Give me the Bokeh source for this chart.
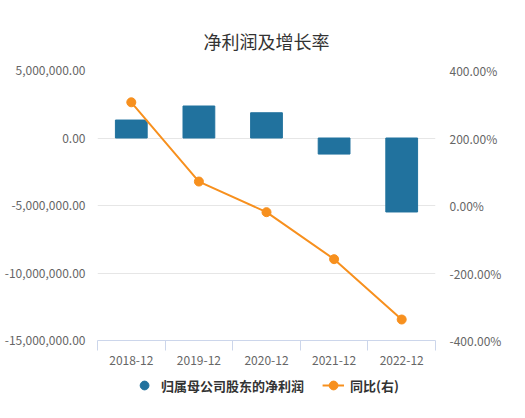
from bokeh.plotting import figure
from bokeh.layouts import column
from bokeh.models import (Range1d, LinearAxis, FixedTicker, NumeralTickFormatter,
                          PrintfTickFormatter, Legend, LegendItem, ColumnDataSource)
from bokeh.embed import file_html
from bokeh.resources import INLINE

# data
periods = ["2018-12", "2019-12", "2020-12", "2021-12", "2022-12"]
net_profit = [1330000, 2370000, 1870000, -1190000, -5480000]
yoy_pct = [305.8, 71.0, -19.8, -159.0, -337.8]

BLUE = "#21729e"
ORANGE = "#f7901e"
FONT = "Noto Sans CJK SC"

xs = [i + 0.5 for i in range(len(periods))]
src = ColumnDataSource(dict(x=xs, profit=net_profit, yoy=yoy_pct))

p = figure(width=509, height=367, output_backend="svg", toolbar_location=None,
           x_range=Range1d(0, len(periods)), y_range=Range1d(-15000000, 5000000),
           title="净利润及增长率", min_border_left=97, min_border_right=74,
           min_border_top=70, min_border_bottom=23)
p.outline_line_color = None

p.title.align = "center"
p.title.text_font = FONT
p.title.text_font_size = "18px"
p.title.text_font_style = "normal"
p.title.text_color = "#333333"
p.title.standoff = 33

p.extra_y_ranges = {"pct": Range1d(-400, 400)}

p.vbar(x="x", top="profit", bottom=0, width=0.47, color=BLUE, source=src)
p.line(x="x", y="yoy", y_range_name="pct", color=ORANGE, line_width=2, source=src)
p.scatter(x="x", y="yoy", y_range_name="pct", color=ORANGE, size=9, source=src)

# left axis
ya = p.yaxis[0]
ya.ticker = FixedTicker(ticks=[-15000000, -10000000, -5000000, 0, 5000000])
ya.formatter = NumeralTickFormatter(format="0,0.00")
ya.axis_line_color = None
ya.major_tick_line_color = None
ya.minor_tick_line_color = None
ya.major_tick_out = 0
ya.major_label_text_font = FONT
ya.major_label_text_font_size = "12px"
ya.major_label_text_color = "#666666"
ya.major_label_standoff = 12

# right axis
ra = LinearAxis(y_range_name="pct", ticker=FixedTicker(ticks=[-400, -200, 0, 200, 400]),
                formatter=PrintfTickFormatter(format="%.2f%%"))
ra.axis_line_color = None
ra.major_tick_line_color = None
ra.minor_tick_line_color = None
ra.major_tick_out = 0
ra.major_label_text_font = FONT
ra.major_label_text_font_size = "12px"
ra.major_label_text_color = "#666666"
ra.major_label_standoff = 14
p.add_layout(ra, "right")

# x axis: labels at centres, tick marks between categories
xa = p.xaxis[0]
xa.ticker = FixedTicker(ticks=xs, minor_ticks=list(range(len(periods) + 1)))
xa.major_label_overrides = {x: lab for x, lab in zip(xs, periods)}
xa.major_tick_line_color = None
xa.major_tick_out = 0
xa.minor_tick_line_color = "#ccd6eb"
xa.minor_tick_in = 0
xa.minor_tick_out = 10
xa.axis_line_color = "#ccd6eb"
xa.major_label_text_font = FONT
xa.major_label_text_font_size = "12px"
xa.major_label_text_color = "#666666"
xa.major_label_standoff = 5

p.xgrid.grid_line_color = None
p.ygrid.grid_line_color = "#e6e6e6"

# legend strip below the chart (its glyphs fall outside its own view)
lg = figure(width=509, height=36, output_backend="svg", toolbar_location=None,
            x_range=Range1d(0, 1), y_range=Range1d(1e12, 1e12 + 1),
            min_border=0, x_axis_type=None, y_axis_type=None)
lg.outline_line_color = None
lg.grid.grid_line_color = None
r_bar = lg.scatter(x="x", y="profit", source=src, color=BLUE, size=13)
r_line = lg.line(x="x", y="yoy", source=src, color=ORANGE, line_width=2)
r_dot = lg.scatter(x="x", y="yoy", source=src, color=ORANGE, size=7)
legend = Legend(items=[LegendItem(label="归属母公司股东的净利润", renderers=[r_bar]),
                       LegendItem(label="同比(右)", renderers=[r_line, r_dot])],
                orientation="horizontal", location="center")
legend.label_text_font = FONT
legend.label_text_font_size = "13px"
legend.label_text_font_style = "bold"
legend.label_text_color = "#333333"
legend.border_line_color = None
legend.background_fill_alpha = 0
legend.spacing = 18
legend.glyph_width = 22
legend.glyph_height = 28
legend.label_standoff = 6
legend.margin = 0
legend.padding = 0
lg.add_layout(legend, "center")

page = column(p, lg, spacing=0)
open("out.html", "w").write(file_html(page, INLINE))
